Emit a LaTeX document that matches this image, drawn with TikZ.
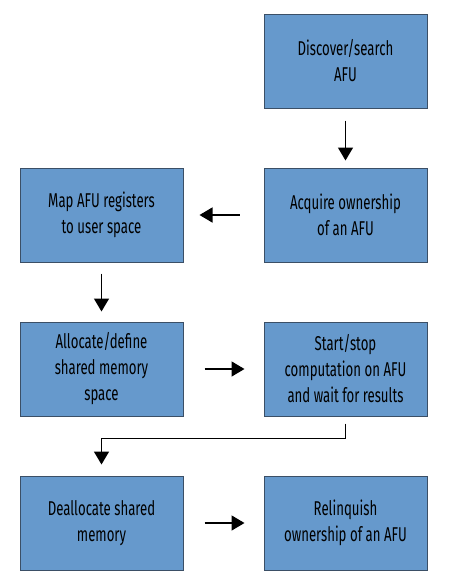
\documentclass[tikz,border=0pt]{standalone}
\usepackage{fontspec}
\setmainfont[FakeStretch=0.66]{Fira Sans}
\usepackage{xcolor}
\usepackage{tikz}
\usetikzlibrary{arrows.meta,positioning}
\definecolor{StageBlue}{HTML}{6699CC}
\definecolor{StageLine}{HTML}{3B4F66}
\definecolor{Ink}{HTML}{000000}

\begin{document}
\begin{tikzpicture}[
  font=\fontsize{20pt}{26pt}\selectfont,
  stage/.style={draw=StageLine,fill=StageBlue,line width=1pt,align=center,
    minimum width=163pt,minimum height=94pt,inner sep=0pt,text=Ink},
  flow/.style={-{Triangle[length=13pt,width=15pt]},draw=Ink,line width=1.5pt}
]
  \useasboundingbox (0,0) rectangle (456pt,-587pt);
  \node[stage] (discover) at (345.5pt,-61pt) {Discover/search\\AFU};
  \node[stage,below=59pt of discover] (acquire)
    {Acquire ownership\\of an AFU};
  \node[stage,left=80pt of acquire] (mapreg)
    {Map AFU registers\\to user space};
  \node[stage,below=59pt of mapreg] (alloc)
    {Allocate/define\\shared memory\\space};
  \node[stage,right=80pt of alloc] (compute)
    {Start/stop\\computation on AFU\\and wait for results};
  \node[stage,below=59pt of alloc] (dealloc)
    {Deallocate shared\\memory};
  \node[stage,right=80pt of dealloc] (relinq)
    {Relinquish\\ownership of an AFU};

  \draw[flow,shorten <=12pt,shorten >=7pt] (discover) -- (acquire);
  \draw[flow,shorten <=24pt,shorten >=16pt] (acquire) -- (mapreg);
  \draw[flow,shorten <=11pt,shorten >=10pt] (mapreg) -- (alloc);
  \draw[flow,shorten <=21pt,shorten >=19pt] (alloc) -- (compute);
  \draw[flow,shorten <=7pt,shorten >=11pt]
    (compute.south) -- ++(0,-22pt) -| (dealloc.north);
  \draw[flow,shorten <=21pt,shorten >=19pt] (dealloc) -- (relinq);
\end{tikzpicture}
\end{document}
